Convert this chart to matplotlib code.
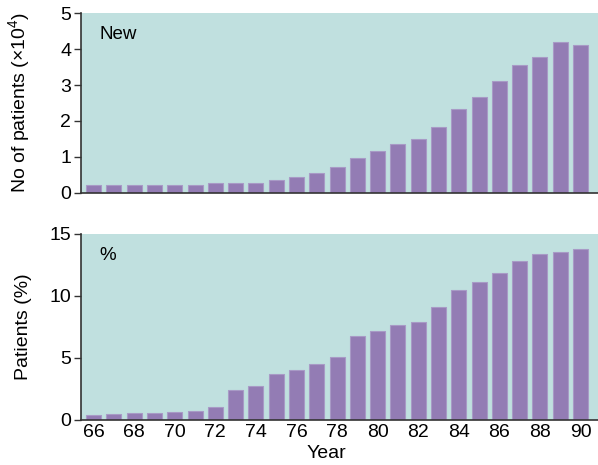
import matplotlib
matplotlib.use('agg')
import matplotlib.pyplot as plt
import numpy as np

plt.rcParams['font.family'] = ['Liberation Sans', 'DejaVu Sans']
plt.rcParams['mathtext.fontset'] = 'custom'
plt.rcParams['mathtext.rm'] = 'Liberation Sans'
plt.rcParams['mathtext.it'] = 'Liberation Sans'

years = list(range(66, 91))
new_patients = [0.22, 0.22, 0.22, 0.22, 0.22, 0.22, 0.27, 0.29, 0.29, 0.35,
                0.43, 0.55, 0.73, 0.97, 1.17, 1.36, 1.50, 1.82, 2.32, 2.67,
                3.11, 3.56, 3.77, 4.19, 4.11]
pct_patients = [0.40, 0.48, 0.54, 0.59, 0.62, 0.75, 1.02, 2.44, 2.72, 3.71,
                4.01, 4.52, 5.11, 6.77, 7.15, 7.66, 7.90, 9.11, 10.48, 11.13,
                11.85, 12.82, 13.41, 13.57, 13.79]
year_ticks = list(range(66, 91, 2))

bg = '#c0e0df'
bar_col = '#937cb4'
edge_col = '#a89ac6'
spine_col = '#333333'
fs = 14

fig = plt.figure(figsize=(5.98, 4.65), dpi=100)
ax1 = fig.add_axes([0.1355, 0.585, 0.8645, 0.387])
ax2 = fig.add_axes([0.1355, 0.097, 0.8645, 0.400])

for ax, vals, ymax, yt, label, tag in [
        (ax1, new_patients, 5, [0, 1, 2, 3, 4, 5], r'No of patients (×10$^4$)', 'New'),
        (ax2, pct_patients, 15, [0, 5, 10, 15], 'Patients (%)', '%')]:
    ax.set_facecolor(bg)
    ax.bar(years, vals, width=0.74, color=bar_col, edgecolor=edge_col, linewidth=0.8, zorder=2)
    ax.set_xlim(65.38, 90.86)
    ax.set_ylim(0, ymax)
    ax.set_yticks(yt)
    ax.set_ylabel(label, fontsize=fs)
    for s in ['top', 'right']:
        ax.spines[s].set_visible(False)
    for s in ['left', 'bottom']:
        ax.spines[s].set_color(spine_col)
        ax.spines[s].set_linewidth(1.2)
    ax.tick_params(axis='y', length=5, width=1, color=spine_col, labelsize=fs, pad=2)
    ax.tick_params(axis='x', length=0, labelsize=fs, pad=3)
    ax.text(0.036, 0.93, tag, transform=ax.transAxes, fontsize=13.5, va='top', ha='left')

ax1.set_xticks([])
ax2.set_xticks(year_ticks)
ax2.set_xticklabels([str(y) for y in year_ticks])
ax2.set_xlabel('Year', fontsize=fs)
ax1.yaxis.set_label_coords(-0.095, 0.5)
ax2.yaxis.set_label_coords(-0.095, 0.5)
ax2.xaxis.set_label_coords(0.475, -0.135)

fig.savefig('out.png', dpi=100)
